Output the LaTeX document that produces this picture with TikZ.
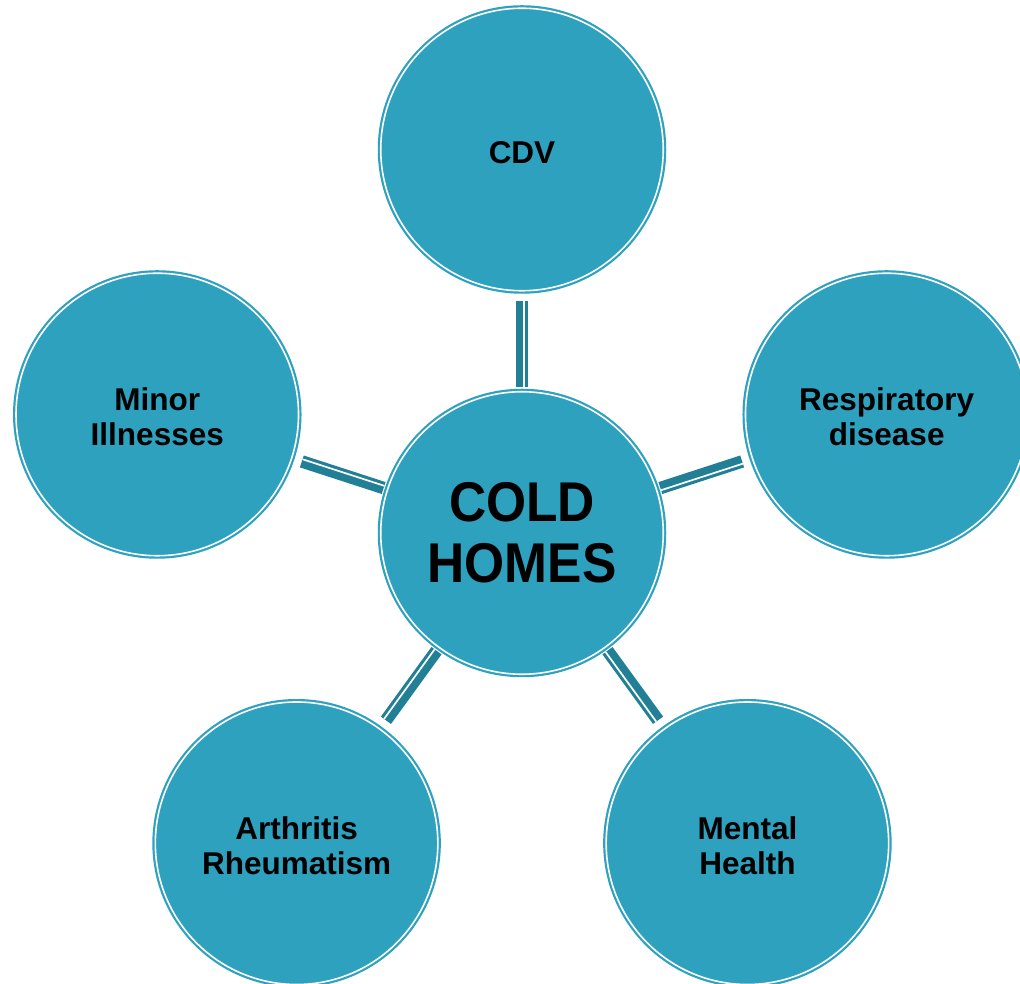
\documentclass[tikz,border=0pt]{standalone}
\usepackage{fontspec}
\setmainfont{Liberation Sans}
\usetikzlibrary{calc}
\definecolor{circfill}{RGB}{46,161,191}
\definecolor{linkcol}{RGB}{33,128,150}
\newcommand{\lblstrut}{\rule{0pt}{27.5pt}}
\tikzset{
  bubble/.style={circle, minimum size=282.5pt, inner sep=0pt, fill=circfill,
    draw=circfill, line width=2.2pt, double=white, double distance=1.6pt,
    align=center, text=black, font=\bfseries\fontsize{31.5}{35}\selectfont},
  hub/.style={bubble, font=\bfseries\fontsize{56}{61}\selectfont},
  linkband/.style={draw=linkcol, line width=12.5pt},
  linkgap/.style={draw=white, line width=1.7pt},
}
\begin{document}
\begin{tikzpicture}[x=1pt,y=1pt]
\clip (0,0) rectangle (1020,984);
\fill[white] (0,0) rectangle (1020,984);
\node[hub] (hub) at (522,451) {\scalebox{0.92}[1]{COLD}\\\scalebox{0.92}[1]{HOMES}};
\node[bubble] (cdv) at ($(hub.center)+(90:383.5pt)$) {\lblstrut CDV};
\node[bubble] (minor) at ($(hub.center)+(162:383.5pt)$) {\lblstrut Minor\\Illnesses};
\node[bubble] (resp) at ($(hub.center)+(18:383.5pt)$) {\lblstrut Respiratory\\disease};
\node[bubble] (arth) at ($(hub.center)+(234:383.5pt)$) {\lblstrut Arthritis\\Rheumatism};
\node[bubble] (mental) at ($(hub.center)+(306:383.5pt)$) {\lblstrut Mental\\Health};
\foreach \o in {cdv,minor,resp,arth,mental}{
  \coordinate (s-\o) at ($(\o.center)!152pt!(hub.center)$);
  \coordinate (e-\o) at ($(hub.center)!145.5pt!(\o.center)$);
  \draw[linkband] (s-\o) -- (e-\o);
  \draw[linkgap] ($(s-\o)!2.3pt!90:(e-\o)$) -- ($(e-\o)!2.3pt!-90:(s-\o)$);
}
\end{tikzpicture}
\end{document}
